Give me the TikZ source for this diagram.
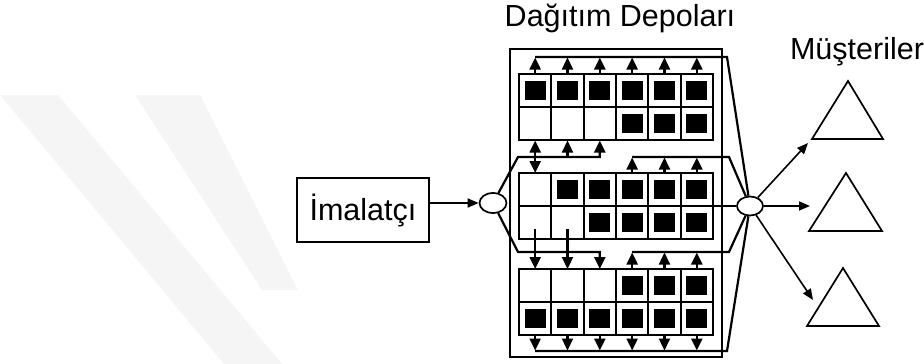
\documentclass[tikz,border=0pt]{standalone}
\usepackage{fontspec}
\setmainfont{Liberation Sans}
\usetikzlibrary{arrows.meta,shapes.geometric}
\begin{document}
\begin{tikzpicture}[x=1pt,y=-1pt,line width=2.2pt,
  arr/.style={-{Triangle[length=12pt,width=11pt]}},
  darr/.style={{Triangle[length=12pt,width=11pt]}-{Triangle[length=12pt,width=11pt]}},
  thinarr/.style={line width=1.6pt,-{Triangle[length=11pt,width=9pt]}},
  oval/.style={draw,ellipse,inner sep=0pt,line width=1.7pt},
  lbl/.style={font=\fontsize{30.5}{32}\selectfont,text=black,inner sep=0pt},
  cust/.style={line width=1.7pt,line join=miter},
  wm/.style={fill=black!4,draw=none}]
\useasboundingbox (0,0) rectangle (924,364);
% watermark bands
\fill[wm] (0,95) -- (58,95) -- (282,364) -- (224,364) -- (0,95) -- cycle;
\fill[wm] (135,95) -- (200,95) -- (298,290) -- (262,290) -- cycle;
% labels
\node[lbl] (title) at (620,18) {Dağıtım Depoları};
\node[lbl] (cus) at (857,52) {Müşteriler};
% outer rectangle
\draw (510,49) rectangle (722,357);
% grids
\foreach \gy in {74,173,269}{
  \draw (519,\gy) rectangle (713,\gy+66);
  \draw (519,\gy+33) -- (713,\gy+33);
  \foreach \i in {1,...,5} \draw (519+\i*32.33,\gy) -- (519+\i*32.33,\gy+66);
}
% filled squares: col/row/gridtop
\foreach \c/\r/\g in {1/0/74,2/0/74,3/0/74,4/0/74,5/0/74,6/0/74,4/1/74,5/1/74,6/1/74,
  2/0/173,3/0/173,4/0/173,5/0/173,6/0/173,3/1/173,4/1/173,5/1/173,6/1/173,
  4/0/269,5/0/269,6/0/269,1/1/269,2/1/269,3/1/269,4/1/269,5/1/269,6/1/269}
  \fill (519+\c*32.33-16.17-10.5,\g+16.5+\r*33-9.5) rectangle (519+\c*32.33-16.17+10.5,\g+16.5+\r*33+9.5);
% ovals
\node[oval,minimum width=27pt,minimum height=20pt] (le) at (493,203) {};
\node[oval,minimum width=26pt,minimum height=19pt] (re) at (750,206) {};
% manufacturer
\node[draw,line width=1.7pt,minimum width=132pt,minimum height=64pt,lbl,inner sep=0pt] (im) at (363,210) {İmalatçı};
\draw[thinarr] (im.east |- le) -- (le);
% top line
\draw (re) -- (727,57) -- (535.2,57);
\foreach \i in {1,...,6} \draw[arr] (519+\i*32.33-16.17,74) -- (519+\i*32.33-16.17,57.5);
% line A
\draw[arr] (le) -- (518,157) -- (599.8,157) -- (599.8,140.5);
\draw[arr] (567.5,157) -- (567.5,140.5);
\draw[darr] (535.2,140.5) -- (535.2,173);
% line B
\draw (re) -- (729,157) -- (632.2,157);
\foreach \i in {4,5,6} \draw[arr] (519+\i*32.33-16.17,173) -- (519+\i*32.33-16.17,157.5);
% line C
\draw[arr] (le) -- (518,252) -- (599.8,252) -- (599.8,269);
\draw[arr] (535.2,229) -- (535.2,269);
\draw[arr] (567.5,229) -- (567.5,269);
% line D
\draw (re) -- (729,252) -- (632.2,252);
\foreach \i in {4,5,6} \draw[arr] (519+\i*32.33-16.17,269) -- (519+\i*32.33-16.17,252.5);
% line E
\draw (re) -- (727,351) -- (535.2,351);
\foreach \i in {1,...,6} \draw[arr] (519+\i*32.33-16.17,335) -- (519+\i*32.33-16.17,350.5);
% middle horizontal
\draw (713,206) -- (re);
% customers
\draw[cust] (848,81) -- (883,139) -- (812,139) -- cycle;
\draw[cust] (846,173) -- (882,231) -- (809,231) -- cycle;
\draw[cust] (843,268) -- (879,326) -- (807,326) -- cycle;
\coordinate (a1) at (808,143);
\coordinate (a2) at (810,206);
\coordinate (a3) at (813,300);
\draw[thinarr] (re) -- (a1);
\draw[thinarr] (re) -- (a2);
\draw[thinarr] (re) -- (a3);
\end{tikzpicture}
\end{document}
